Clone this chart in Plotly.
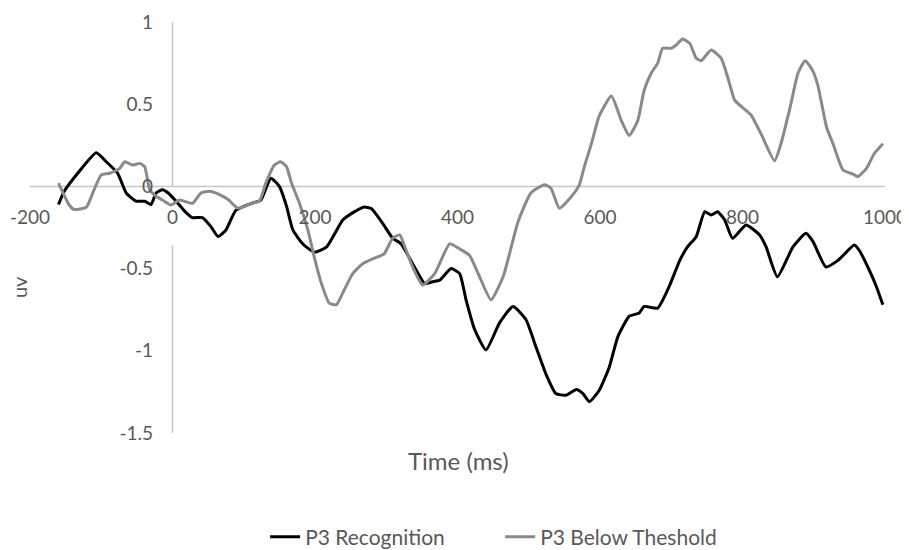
import plotly.graph_objects as go

# ---- data ----
t_rec = [-160, -152, -133, -107, -93, -77, -65, -51, -39, -30, -23, -14, -6, 5, 17, 28, 42, 54, 64, 75,
         89, 113, 124, 138, 150, 160, 169, 183, 199, 216, 239, 255, 269, 279, 295, 309, 321, 337, 354, 365,
         375, 391, 403, 412, 424, 440, 459, 478, 496, 510, 524, 538, 552, 567, 576, 585, 599, 613, 625, 641,
         655, 662, 681, 697, 712, 723, 735, 747, 756, 765, 775, 786, 805, 824, 833, 849, 871, 889, 899, 917,
         934, 957, 964, 978, 988, 997]
v_rec = [-0.11, -0.03, 0.08, 0.205, 0.15, 0.08, -0.04, -0.09, -0.09, -0.11, -0.04, -0.02, -0.04, -0.09, -0.15,
         -0.19, -0.19, -0.245, -0.305, -0.265, -0.145, -0.10, -0.083, 0.05, 0.0, -0.12, -0.265, -0.35, -0.40,
         -0.37, -0.205, -0.155, -0.125, -0.135, -0.225, -0.315, -0.35, -0.47, -0.59, -0.58, -0.57, -0.50, -0.53,
         -0.69, -0.87, -0.995, -0.83, -0.73, -0.81, -0.975, -1.14, -1.26, -1.27, -1.235, -1.26, -1.31, -1.24,
         -1.10, -0.915, -0.79, -0.77, -0.73, -0.74, -0.61, -0.45, -0.367, -0.306, -0.154, -0.174, -0.154,
         -0.204, -0.316, -0.235, -0.296, -0.367, -0.55, -0.367, -0.285, -0.336, -0.49, -0.45, -0.357, -0.39,
         -0.51, -0.61, -0.72]

t_bt = [-160, -145, -138, -121, -110, -100, -88, -74, -67, -56, -46, -39, -32, -23, -14, -2, 10, 28, 40, 52,
        66, 78, 92, 113, 122, 131, 143, 152, 160, 167, 178, 190, 199, 209, 220, 230, 241, 253, 267, 281,
        297, 309, 319, 326, 337, 351, 368, 389, 403, 417, 431, 447, 464, 473, 485, 503, 522, 531, 543, 562,
        571, 578, 588, 599, 616, 630, 641, 653, 662, 672, 681, 688, 700, 707, 716, 726, 735, 742, 756, 770,
        779, 789, 800, 812, 826, 845, 854, 866, 878, 888, 899, 906, 918, 927, 941, 955, 962, 974, 985, 997]
v_bt = [0.02, -0.113, -0.14, -0.127, -0.02, 0.07, 0.08, 0.11, 0.15, 0.13, 0.14, 0.12, -0.02, -0.06, -0.083,
        -0.113, -0.083, -0.103, -0.04, -0.03, -0.05, -0.08, -0.133, -0.10, -0.09, 0.02, 0.13, 0.15, 0.12, 0.02,
        -0.10, -0.265, -0.43, -0.59, -0.71, -0.72, -0.63, -0.53, -0.47, -0.44, -0.41, -0.315, -0.295, -0.367,
        -0.49, -0.60, -0.53, -0.35, -0.38, -0.42, -0.55, -0.69, -0.55, -0.41, -0.215, -0.04, 0.01, -0.01,
        -0.133, -0.05, 0.01, 0.12, 0.26, 0.43, 0.55, 0.40, 0.31, 0.40, 0.585, 0.69, 0.75, 0.84, 0.84, 0.86,
        0.897, 0.87, 0.78, 0.765, 0.83, 0.78, 0.667, 0.525, 0.48, 0.434, 0.32, 0.156, 0.26, 0.465, 0.69, 0.765,
        0.70, 0.61, 0.36, 0.26, 0.10, 0.075, 0.06, 0.11, 0.20, 0.26]

x_ticks = [-200, 0, 200, 400, 600, 800, 1000]
x_tick_text = ["-200", "0", "200", "400", "600", "800", "1000"]
y_ticks = [1, 0.5, 0, -0.5, -1, -1.5]
y_tick_text = ["1", "0.5", "0", "-0.5", "-1", "-1.5"]

series_names = ["P3 Recognition", "P3 Below Theshold"]

assert len(t_rec) == len(v_rec)
assert len(t_bt) == len(v_bt)

FONT = "Lato, 'Open Sans', sans-serif"
TXT = "#595959"
AX = "#c6c6c6"

fig = go.Figure()
fig.add_trace(go.Scatter(x=t_rec, y=v_rec, mode="lines", name=series_names[0],
                         line=dict(color="#000000", width=3, shape="spline", smoothing=0.5)))
fig.add_trace(go.Scatter(x=t_bt, y=v_bt, mode="lines", name=series_names[1],
                         line=dict(color="#8a8a8a", width=3, shape="spline", smoothing=0.5)))

# axis lines (horizontal at 0, vertical at 0 with a gap behind the "0" label)
fig.add_shape(type="line", xref="x", yref="y", x0=-200, x1=1000, y0=0, y1=0,
              line=dict(color=AX, width=1.5), layer="below")
fig.add_shape(type="line", xref="x", yref="y", x0=0, x1=0, y0=1, y1=0,
              line=dict(color=AX, width=1.5), layer="below")
fig.add_shape(type="line", xref="x", yref="y", x0=0, x1=0, y0=-0.36, y1=-1.5,
              line=dict(color=AX, width=1.5), layer="below")

# page has an 8px body margin, so the figure is 901x542 and offsets are compensated
fig.update_layout(
    width=901, height=542,
    margin=dict(l=22, r=24, t=14, b=117, autoexpand=False),
    paper_bgcolor="white", plot_bgcolor="white",
    font=dict(family=FONT, size=21, color=TXT),
    xaxis=dict(range=[-200, 1000], tickmode="array", tickvals=x_ticks, ticktext=x_tick_text,
               showgrid=False, zeroline=False, showline=False, ticks="", automargin=False,
               anchor="free", position=0.6, ticklabelstandoff=18, ticklabeloverflow="allow",
               tickfont=dict(family=FONT, size=19, color=TXT)),
    yaxis=dict(range=[-1.5, 1], tickmode="array", tickvals=y_ticks, ticktext=y_tick_text,
               showgrid=False, zeroline=False, showline=False, ticks="", automargin=False,
               anchor="free", position=143 / 855, ticklabelstandoff=20, ticklabeloverflow="allow",
               tickfont=dict(family=FONT, size=19, color=TXT)),
    legend=dict(orientation="h", x=0.275, xanchor="left", y=-0.253, yanchor="middle",
                font=dict(family=FONT, size=21, color=TXT),
                entrywidth=190, entrywidthmode="pixels", traceorder="normal"),
    annotations=[
        dict(text="uv", xref="paper", yref="paper", x=-0.0129, y=0.355, showarrow=False,
             xanchor="center", yanchor="middle",
             textangle=-90, font=dict(family=FONT, size=20, color=TXT)),
        dict(text="Time (ms)", xref="paper", yref="paper", x=0.5006, y=-0.0657, showarrow=False,
             xanchor="center", yanchor="middle",
             font=dict(family=FONT, size=24, color=TXT)),
    ],
)

fig.write_html("out.html")
